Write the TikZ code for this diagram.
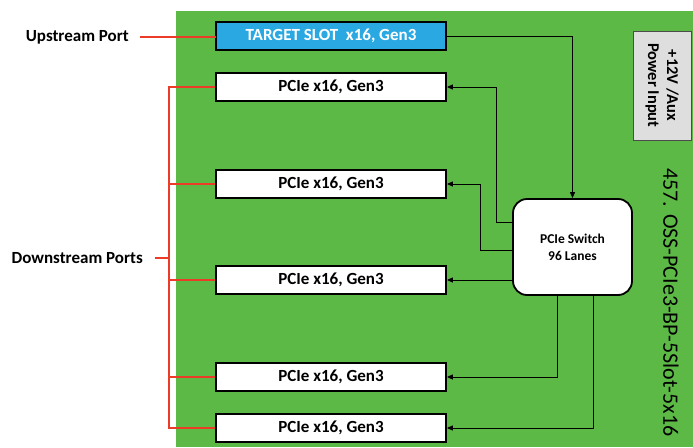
\documentclass[tikz,border=0pt]{standalone}
\usepackage{fontspec}
\setmainfont{Carlito}
\usetikzlibrary{arrows.meta,calc}
\definecolor{board}{RGB}{92,185,70}
\definecolor{slotblue}{RGB}{41,168,226}
\definecolor{redline}{RGB}{236,60,40}
\definecolor{pwrgray}{RGB}{222,222,222}
\begin{document}
\begin{tikzpicture}[x=1pt,y=-1pt,
  slot/.style={draw=black,line width=1.8pt,minimum width=230pt,minimum height=28pt,inner sep=0pt,font=\fontsize{17}{19}\selectfont\bfseries},
  pslot/.style={slot,fill=white},
  switchbox/.style={draw=black,line width=1.8pt,fill=white,rounded corners=14pt,minimum width=119pt,minimum height=96pt,align=center,font=\fontsize{13.5}{17}\selectfont\bfseries},
  conn/.style={draw=black,line width=1pt},
  arr/.style={conn,-{Triangle[length=6pt,width=5pt]}},
  rl/.style={draw=redline,line width=1.3pt},
  lab/.style={inner sep=0pt,font=\fontsize{17}{19}\selectfont\bfseries}]
\useasboundingbox (0,0) rectangle (693,447);
\fill[white] (0,0) rectangle (693,447);
\fill[board] (176,11) rectangle (693,447);

\node[slot,fill=slotblue,text=white] (t) at (331,36) {TARGET SLOT\ \ x16, Gen3};
\node[pslot] (p1) at (331,87) {PCIe x16, Gen3};
\node[pslot] (p2) at (331,184) {PCIe x16, Gen3};
\node[pslot] (p3) at (331,280) {PCIe x16, Gen3};
\node[pslot] (p4) at (331,377) {PCIe x16, Gen3};
\node[pslot] (p5) at (331,428) {PCIe x16, Gen3};

\node[switchbox] (sw) at (572.5,247) {PCIe Switch\\96 Lanes};

\node[draw=black!70,line width=0.9pt,fill=pwrgray,rotate=-90,minimum width=109pt,minimum height=58pt,align=center,inner sep=0pt,font=\fontsize{16.5}{19}\selectfont\bfseries] (pw) at (662,85.5) {+12V /Aux\\Power Input};

\node[rotate=-90,inner sep=0pt,font=\fontsize{22}{24}\selectfont] (title) at (671,302.5) {457. OSS-PCIe3-BP-5Slot-5x16};

\node[lab,anchor=east] (up) at (129,37) {Upstream Port};
\node[lab,anchor=east] (ds) at (143,258) {Downstream Ports};

% connectors
\draw[arr] (t.east) -| (sw.north);
\draw[arr] ($(sw.west)+(0,-25)$) -- ++(-16,0) |- (p1.east);
\draw[arr] ($(sw.west)+(0,3)$) -- ++(-32,0) |- (p2.east);
\draw[arr] (sw.west |- p3.east) -- (p3.east);
\draw[arr] ($(sw.south)+(-15.5,0)$) |- (p4.east);
\draw[arr] ($(sw.south)+(20.5,0)$) |- (p5.east);

% red lines
\draw[rl] ($(up.east)+(11,0)$) -- (t.west |- up.east) -- (t.west);
\draw[rl] ($(ds.east)+(12,0)$) -- ++(15,0);
\draw[rl] (p1.west) -- ++(-46,0) |- (p5.west);
\draw[rl] (p2.west) -- ++(-46,0);
\draw[rl] (p3.west) -- ++(-46,0);
\draw[rl] (p4.west) -- ++(-46,0);
\end{tikzpicture}
\end{document}
